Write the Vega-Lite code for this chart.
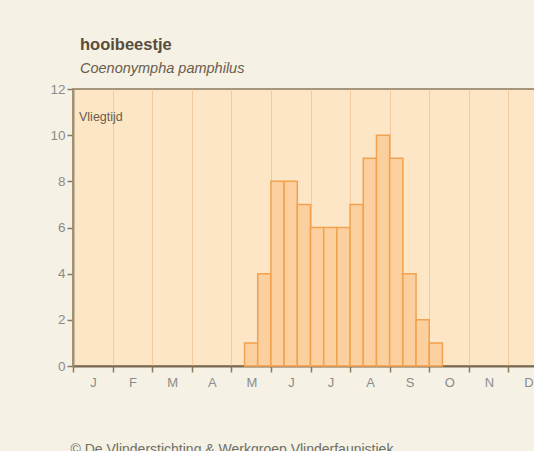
{
  "$schema": "https://vega.github.io/schema/vega-lite/v6.json",
  "width": 475,
  "height": 277,
  "autosize": {"type": "none"},
  "padding": {"left": 73, "top": 89, "right": 0, "bottom": 85},
  "background": "#f5f1e5",
  "title": {
    "text": "hooibeestje",
    "subtitle": "Coenonympha pamphilus",
    "anchor": "start",
    "frame": "group",
    "dx": 7,
    "offset": 7,
    "font": "Liberation Sans",
    "fontSize": 16.5,
    "fontWeight": "bold",
    "color": "#5a4c3c",
    "subtitleFont": "Liberation Sans",
    "subtitleFontSize": 14.5,
    "subtitleFontStyle": "italic",
    "subtitleColor": "#6a5c4c",
    "subtitlePadding": 8
  },
  "config": {
    "view": {"fill": "#fde6c6", "stroke": "#8a7a5e", "strokeWidth": 1.5},
    "axis": {"labelFont": "Liberation Sans", "titleFont": "Liberation Sans"}
  },
  "layer": [
    {
      "data": {"values": [
        {"d0": 13, "d1": 14, "n": 1},
        {"d0": 14, "d1": 15, "n": 4},
        {"d0": 15, "d1": 16, "n": 8},
        {"d0": 16, "d1": 17, "n": 8},
        {"d0": 17, "d1": 18, "n": 7},
        {"d0": 18, "d1": 19, "n": 6},
        {"d0": 19, "d1": 20, "n": 6},
        {"d0": 20, "d1": 21, "n": 6},
        {"d0": 21, "d1": 22, "n": 7},
        {"d0": 22, "d1": 23, "n": 9},
        {"d0": 23, "d1": 24, "n": 10},
        {"d0": 24, "d1": 25, "n": 9},
        {"d0": 25, "d1": 26, "n": 4},
        {"d0": 26, "d1": 27, "n": 2},
        {"d0": 27, "d1": 28, "n": 1}
      ]},
      "mark": {"type": "rect", "fill": "#fccf9e", "stroke": "#f2a14e", "strokeWidth": 1.5},
      "encoding": {
        "x": {
          "field": "d0", "type": "quantitative",
          "scale": {"domain": [0, 36], "nice": false, "zero": false},
          "axis": {
            "values": [0, 3, 6, 9, 12, 15, 18, 21, 24, 27, 30, 33, 36],
            "tickCount": 40,
            "labelExpr": "['J','F','M','A','M','J','J','A','S','O','N','D',''][round(datum.value/3)]",
            "labelOverlap": false,
            "labelFlush": false,
            "labelOffset": 20,
            "labelPadding": 4,
            "labelFontSize": 13,
            "labelColor": "#8c8c8c",
            "tickSize": 6,
            "tickColor": "#8a7a5e",
            "tickWidth": 1.5,
            "domainColor": "#7a6a50",
            "domainWidth": 2,
            "grid": true,
            "gridColor": "#f3c99e",
            "gridWidth": 1,
            "title": "© De Vlinderstichting & Werkgroep Vlinderfaunistiek",
            "titleAnchor": "start",
            "titleAlign": "left",
            "titleX": -3,
            "titleY": 87,
            "titleBaseline": "alphabetic",
            "titleFontSize": 14,
            "titleFontWeight": "normal",
            "titleColor": "#6f6f66"
          }
        },
        "x2": {"field": "d1"},
        "y": {
          "field": "n", "type": "quantitative",
          "scale": {"domain": [0, 12], "nice": false},
          "axis": {
            "values": [0, 2, 4, 6, 8, 10, 12],
            "tickCount": 20,
            "format": "d",
            "title": null,
            "grid": false,
            "labelFontSize": 13.5,
            "labelColor": "#8c8c8c",
            "labelPadding": 2,
            "tickSize": 6,
            "tickColor": "#8a7a5e",
            "tickWidth": 1.5,
            "domainColor": "#a09070",
            "domainWidth": 2
          }
        },
        "y2": {"datum": 0}
      }
    },
    {
      "data": {"values": [{"label": "Vliegtijd", "px": 0, "py": 12}]},
      "mark": {"type": "text", "align": "left", "baseline": "top", "dx": 6, "dy": 22, "font": "Liberation Sans", "fontSize": 12.5, "color": "#6a5c4c"},
      "encoding": {
        "x": {"field": "px", "type": "quantitative"},
        "y": {"field": "py", "type": "quantitative"},
        "text": {"field": "label"}
      }
    }
  ]
}
